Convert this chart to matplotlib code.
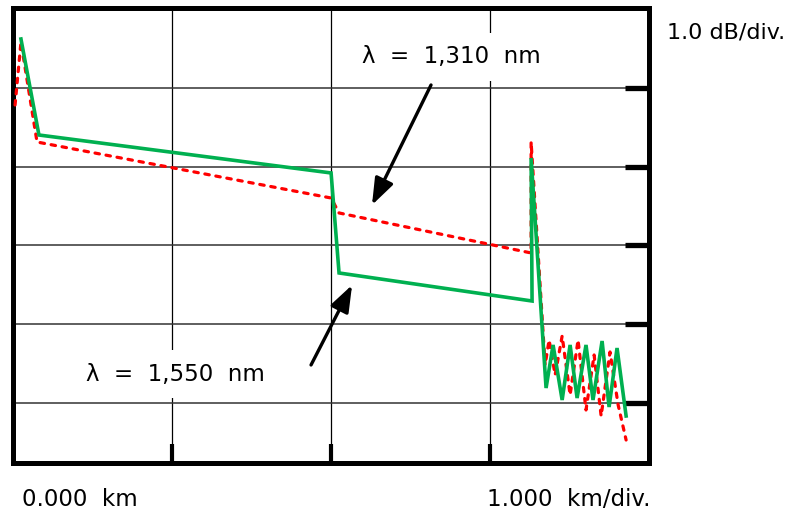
import matplotlib
matplotlib.use("Agg")
import matplotlib.pyplot as plt

# ---- data (x in km, y in dB) ----
green_x = [0.050, 0.163, 1.999, 2.049, 3.262, 3.256, 3.350, 3.394, 3.451, 3.501,
           3.545, 3.601, 3.645, 3.702, 3.746, 3.796, 3.853]
green_y = [5.622, 4.403, 3.921, 2.651, 2.295, 4.111, 1.190, 1.737, 1.038, 1.737,
           1.063, 1.737, 1.038, 1.787, 0.949, 1.698, 0.835]

red_x = [0.013, 0.050, 0.151, 1.999, 2.049, 3.256, 3.256, 3.344, 3.369, 3.407,
         3.451, 3.501, 3.551, 3.601, 3.652, 3.696, 3.752, 3.803, 3.853]
red_y = [4.784, 5.584, 4.314, 3.603, 3.413, 2.905, 4.314, 1.483, 1.800, 1.356,
         1.851, 1.102, 1.800, 0.911, 1.610, 0.835, 1.648, 0.975, 0.530]

x_grid = [1, 2, 3]
y_grid = [1, 2, 3, 4, 5]

label_1310 = "λ  =  1,310  nm"
label_1550 = "λ  =  1,550  nm"
arrow_1310 = ((2.627, 5.038), (2.256, 3.514))  # (tail, tip)
arrow_1550 = ((1.873, 1.483), (2.131, 2.498))
text_1310_pos = (2.753, 5.394)
text_1550_pos = (1.018, 1.368)

W, H = 794, 515
fig = plt.figure(figsize=(W / 100, H / 100), dpi=100)
ax = fig.add_axes([13 / W, 1 - 462.5 / H, (649.5 - 13) / W, (462.5 - 7.5) / H])
ax.set_xlim(0, 4)
ax.set_ylim(0.2444, 6.022)

for xv in x_grid:
    ax.axvline(xv, color="black", lw=0.9, zorder=1)
for yv in y_grid:
    ax.axhline(yv, color="#333333", lw=1.1, zorder=1)

ax.plot(green_x, green_y, color="#00b050", lw=2.6, zorder=4, solid_joinstyle="miter")
ax.plot(red_x, red_y, color="#ff0000", lw=2.3, zorder=3,
        linestyle=(0, (1.4, 2.1)), dash_capstyle="round")

ax.set_xticks(x_grid)
ax.set_yticks(y_grid)
ax.tick_params(axis="x", which="both", direction="in", length=14, width=3,
               labelbottom=False, bottom=True, top=False)
ax.tick_params(axis="y", which="both", direction="in", length=17, width=3.8,
               labelleft=False, left=False, right=True, labelright=False)
for s in ax.spines.values():
    s.set_linewidth(3.6)
    s.set_color("black")

bb = dict(boxstyle="square,pad=0.55", fc="white", ec="none")
ax.text(*text_1310_pos, label_1310, fontsize=16.5, ha="center", va="center",
        bbox=bb, zorder=5)
ax.text(*text_1550_pos, label_1550, fontsize=16.5, ha="center", va="center",
        bbox=bb, zorder=5)

for (tail, tip) in (arrow_1310, arrow_1550):
    ax.annotate("", xy=tip, xytext=tail,
                arrowprops=dict(arrowstyle="-|>,head_length=0.9,head_width=0.33",
                                lw=2.4, color="black", mutation_scale=18,
                                shrinkA=0, shrinkB=0),
                zorder=6)

fig.text(667 / W, 1 - 32 / H, "1.0 dB/div.", fontsize=16, ha="left", va="center")
fig.text(22 / W, 1 - 500 / H, "0.000  km", fontsize=16.5, ha="left", va="center")
fig.text(487 / W, 1 - 500 / H, "1.000  km/div.", fontsize=16.5, ha="left", va="center")

fig.savefig("out.png", dpi=100)
